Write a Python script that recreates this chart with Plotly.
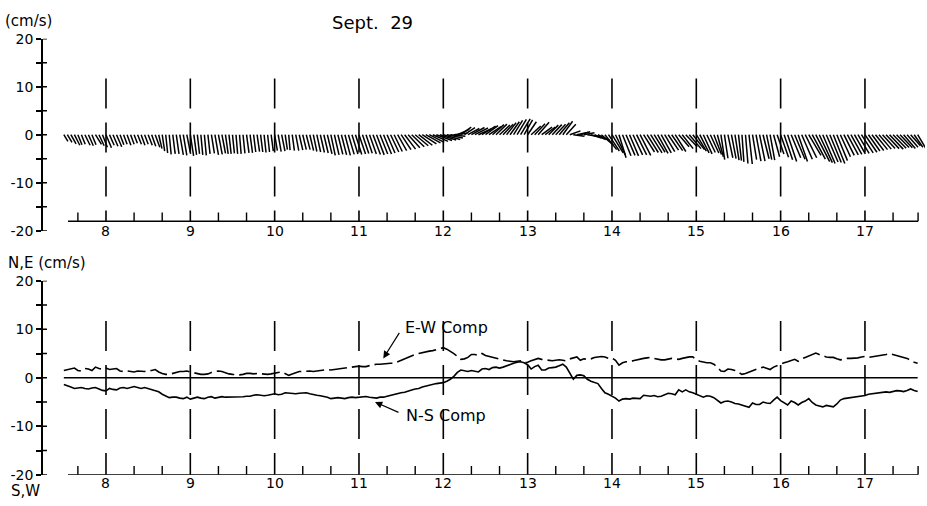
import plotly.graph_objects as go

# ---- data: hourly current components (cm/s), starting Sept. 7, 12:00 ----
t_start = 7.5          # day of month of the first sample
step_hours = 1.0

# east-west component (positive = east)
ew = [
    1.5, 1.7, 1.9, 2.0, 1.5, 1.4, 1.9, 1.8, 1.5, 2.2, 1.9, 1.8,
    2.0, 1.7, 1.8, 1.9, 1.4, 1.3, 1.4, 1.3, 1.2, 1.4, 1.4, 1.3,
    1.5, 1.5, 1.7, 1.2, 0.9, 0.7, 0.7, 0.9, 1.0, 1.3, 1.3, 1.4,
    1.2, 1.0, 0.8, 0.7, 0.7, 0.8, 1.1, 1.3, 1.4, 1.3, 1.0, 0.8,
    0.7, 0.6, 0.6, 0.7, 0.9, 0.9, 0.8, 0.9, 0.8, 0.7, 0.7, 0.8,
    1.0, 1.1, 1.2, 0.8, 0.5, 0.8, 1.1, 1.3, 1.3, 1.4, 1.4, 1.3,
    1.4, 1.5, 1.6, 1.7, 1.6, 1.7, 1.8, 1.9, 2.0, 2.1, 2.2, 2.3,
    2.4, 2.3, 2.3, 2.5, 2.7, 2.8, 2.8, 2.9, 2.9, 3.0, 3.0, 3.3,
    3.6, 4.0, 4.3, 4.6, 4.8, 5.0, 5.2, 5.4, 5.5, 5.6, 5.8, 6.0,
    6.2, 5.9, 5.5, 5.0, 4.4, 3.8, 3.9, 4.2, 4.8, 4.8, 4.6, 5.0,
    4.6, 4.4, 4.2, 4.0, 3.8, 3.7, 3.5, 3.4, 3.3, 3.4, 3.5, 3.1,
    3.2, 3.5, 3.8, 4.0, 3.8, 3.7, 3.5, 3.5, 3.6, 3.7, 3.6, 3.5,
    3.9, 4.1, 4.3, 3.6, 3.9, 3.8, 3.9, 4.2, 4.3, 4.4, 4.3, 4.0,
    4.1, 3.6, 2.6, 3.1, 3.3, 3.3, 3.5, 3.7, 3.9, 4.0, 4.1, 4.2,
    4.0, 3.8, 3.7, 3.7, 3.8, 4.0, 3.9, 3.8, 4.0, 4.2, 4.3, 4.3,
    3.7, 3.4, 3.2, 3.1, 3.1, 2.8, 2.2, 1.4, 1.3, 1.8, 1.7, 1.5,
    1.1, 0.7, 0.9, 1.2, 1.5, 1.8, 2.0, 2.2, 1.9, 1.7, 2.2, 2.5,
    2.9, 3.1, 3.3, 3.5, 3.8, 3.4, 3.9, 4.2, 4.5, 4.8, 5.1, 4.8,
    4.5, 4.3, 4.2, 4.2, 3.9, 3.7, 3.8, 4.0, 4.0, 4.0, 4.1, 4.3,
    4.4, 4.2, 4.3, 4.4, 4.5, 4.6, 4.8, 5.0, 4.8, 4.6, 4.5, 4.3,
    4.0, 3.6, 3.2, 3.0,
]

# north-south component (positive = north)
ns = [
    -1.4, -1.6, -1.9, -2.2, -2.1, -2.0, -2.2, -2.3, -2.1, -2.0, -2.3, -2.6,
    -2.7, -2.2, -2.4, -2.5, -2.1, -2.0, -2.2, -2.0, -1.8, -2.0, -2.2, -2.0,
    -2.2, -2.4, -2.6, -2.9, -3.4, -3.8, -4.1, -4.0, -4.0, -4.2, -4.3, -4.0,
    -4.4, -4.2, -4.0, -4.2, -4.3, -4.0, -3.9, -4.2, -4.1, -3.9, -4.0, -4.0,
    -3.9, -4.0, -4.0, -3.9, -3.8, -3.8, -3.6, -3.5, -3.6, -3.7, -3.6, -3.4,
    -3.3, -3.5, -3.4, -3.1, -3.2, -3.3, -3.3, -3.2, -3.1, -3.1, -3.3, -3.5,
    -3.6, -3.7, -3.8, -4.0, -4.3, -4.2, -4.1, -4.2, -4.3, -4.1, -4.0, -4.1,
    -4.0, -3.9, -3.85, -4.0, -4.1, -4.2, -4.0, -4.0, -3.8, -3.6, -3.5, -3.3,
    -3.1, -3.0, -2.7, -2.5, -2.3, -2.2, -1.9, -1.7, -1.6, -1.4, -1.2, -1.1,
    -1.0, -0.7, -0.3, 0.3, 1.1, 1.6, 1.5, 1.3, 1.5, 1.4, 1.2, 1.8,
    1.9, 1.7, 2.1, 2.2, 2.0, 2.2, 2.5, 2.7, 3.0, 3.2, 3.3, 3.1,
    2.7, 1.8, 2.3, 2.6, 1.6, 1.6, 2.0, 2.1, 2.2, 2.5, 2.8, 2.2,
    0.8, -0.3, 0.5, 0.6, 0.4, -0.3, -0.7, -1.0, -1.2, -2.2, -3.1, -3.4,
    -3.8, -4.2, -4.8, -4.4, -4.3, -4.4, -4.2, -4.2, -4.3, -3.6, -3.7, -3.8,
    -3.65, -3.9, -3.8, -3.5, -3.2, -3.3, -3.5, -2.5, -2.9, -2.5, -2.9, -3.1,
    -3.4, -3.8, -4.0, -3.7, -3.8, -4.1, -4.6, -5.2, -4.9, -4.8, -5.0, -5.3,
    -5.4, -5.65, -6.0, -6.1, -5.2, -5.5, -5.5, -5.0, -5.2, -5.3, -4.6, -4.0,
    -4.7, -5.2, -5.6, -4.8, -5.1, -5.6, -5.1, -4.8, -4.3, -5.1, -5.6, -5.8,
    -6.0, -5.7, -5.8, -6.0, -5.4, -4.6, -4.3, -4.2, -4.1, -4.0, -3.9, -3.8,
    -3.65, -3.4, -3.3, -3.1, -3.0, -2.85, -2.9, -3.0, -2.8, -2.65, -2.7, -2.85,
    -2.6, -2.3, -2.6, -2.85,
]

# axis ticks / labels
day_ticks = [8, 9, 10, 11, 12, 13, 14, 15, 16, 17]
day_labels = [str(d) for d in day_ticks]
y_ticks = [-20, -15, -10, -5, 0, 5, 10, 15, 20]
y_labels = ["-20", "", "-10", "", "0", "", "10", "", "20"]
axis_start, axis_end = 7.55, 17.63      # extent of the drawn time axis

# ---- page geometry ----
W, H = 927, 506
ML, MR = 43, 2
PW = W - ML - MR
X_RANGE = [7.253, 17.712]
Y_RANGE = [-20, 20]
TOP_PX = (31.7, 230.0)     # pixel rows of +20 / -20, upper panel
LOW_PX = (281.7, 482.0)    # pixel rows of +20 / -20, lower panel

def px_x(px):
    return (px - ML) / PW

def px_y(py):
    return 1 - py / H

FONT = "DejaVu Sans"
INK = "black"

t = [t_start + i * step_hours / 24 for i in range(len(ew))]

# stick plot: east component drawn at a compressed horizontal scale
px_per_day = PW / (X_RANGE[1] - X_RANGE[0])
px_per_unit = (TOP_PX[1] - TOP_PX[0]) / (Y_RANGE[1] - Y_RANGE[0])
stick_scale = 0.55 * px_per_unit / px_per_day

sx, sy = [], []
for ti, u, v in zip(t, ew, ns):
    sx += [ti, ti + u * stick_scale, None]
    sy += [0, v, None]

fig = go.Figure()

fig.add_trace(go.Scatter(x=sx, y=sy, mode="lines", xaxis="x", yaxis="y",
                         line=dict(color=INK, width=1.5), hoverinfo="skip"))

# lower panel: reference line and the two components
fig.add_trace(go.Scatter(x=[t[0], t[-1]], y=[0, 0], mode="lines", xaxis="x2", yaxis="y2",
                         line=dict(color=INK, width=1.5), hoverinfo="skip"))
fig.add_trace(go.Scatter(x=t, y=ew, mode="lines", xaxis="x2", yaxis="y2", name="E-W Comp",
                         line=dict(color=INK, width=1.6, dash="18px,5px")))
fig.add_trace(go.Scatter(x=t, y=ns, mode="lines", xaxis="x2", yaxis="y2", name="N-S Comp",
                         line=dict(color=INK, width=1.6)))

shapes = []
annotations = []
minor_ticks = [d + f for d in range(7, 18) for f in (1 / 3, 2 / 3)
               if axis_start < d + f < axis_end] + [axis_end]

for xa, ya, base, label_py in (("x", "y", -18, 230), ("x2", "y2", -20, 491)):
    # time axis line
    shapes.append(dict(type="line", xref=xa, yref=ya, x0=axis_start, x1=axis_end,
                       y0=base, y1=base, line=dict(color=INK, width=1.5)))
    for m in minor_ticks:
        shapes.append(dict(type="line", xref=xa, yref=ya, x0=m, x1=m,
                           y0=base, y1=base + 1.8, line=dict(color=INK, width=1.4)))
    # broken vertical day markers
    for d, lab in zip(day_ticks, day_labels):
        shapes.append(dict(type="line", xref=xa, yref=ya, x0=d, x1=d, y0=11.7, y1=base,
                           line=dict(color=INK, width=1.6, dash="30px,14px")))
        annotations.append(dict(x=d, y=px_y(label_py), xref=xa, yref="paper",
                                text=lab, showarrow=False, yanchor="middle",
                                font=dict(family=FONT, size=14, color=INK)))
    # inner half of the y ticks (ticks cross the axis)
    for v in y_ticks:
        shapes.append(dict(type="line", xref="paper", yref=ya, x0=0, x1=4 / PW,
                           y0=v, y1=v, line=dict(color=INK, width=1.5)))

texts = [
    ("(cm/s)", 3, 13, "left", 15),
    ("Sept.  29", 372, 15, "center", 18),
    ("N,E (cm/s)", 6, 263, "left", 15),
    ("S,W", 9, 499, "left", 15),
    ("E-W Comp", 446, 330, "center", 16),
    ("N-S Comp", 446, 421, "center", 16),
]
for txt, px, py, anchor, size in texts:
    annotations.append(dict(x=px_x(px), y=px_y(py), xref="paper", yref="paper",
                            text=txt, showarrow=False, xanchor=anchor, yanchor="middle",
                            font=dict(family=FONT, size=size, color=INK)))

# pointers from the component labels to their curves
for tip_t, tip_v, dx, dy in ((11.288, 4.0, 17, -27), (11.19, -5.0, 25, 11)):
    annotations.append(dict(x=tip_t, y=tip_v, xref="x2", yref="y2", text="",
                            showarrow=True, ax=dx, ay=dy, arrowhead=2, arrowsize=1.2,
                            arrowwidth=1.2, arrowcolor=INK))

def y_axis(domain):
    return dict(domain=domain, range=Y_RANGE, showline=True, linecolor=INK, linewidth=1.5,
                tickvals=y_ticks, ticktext=y_labels, ticks="outside", ticklen=5,
                tickwidth=1.5, tickcolor=INK, showgrid=False, zeroline=False,
                tickfont=dict(family=FONT, size=14, color=INK), fixedrange=True)

fig.update_layout(
    width=W, height=H,
    margin=dict(l=ML, r=MR, t=0, b=0),
    paper_bgcolor="white", plot_bgcolor="white",
    showlegend=False,
    xaxis=dict(domain=[0, 1], range=X_RANGE, visible=False, anchor="y"),
    xaxis2=dict(domain=[0, 1], range=X_RANGE, visible=False, anchor="y2", matches="x"),
    yaxis=y_axis([px_y(TOP_PX[1]), px_y(TOP_PX[0])]),
    yaxis2=y_axis([px_y(LOW_PX[1]), px_y(LOW_PX[0])]),
    shapes=shapes,
    annotations=annotations,
)

fig.write_html("out.html")
